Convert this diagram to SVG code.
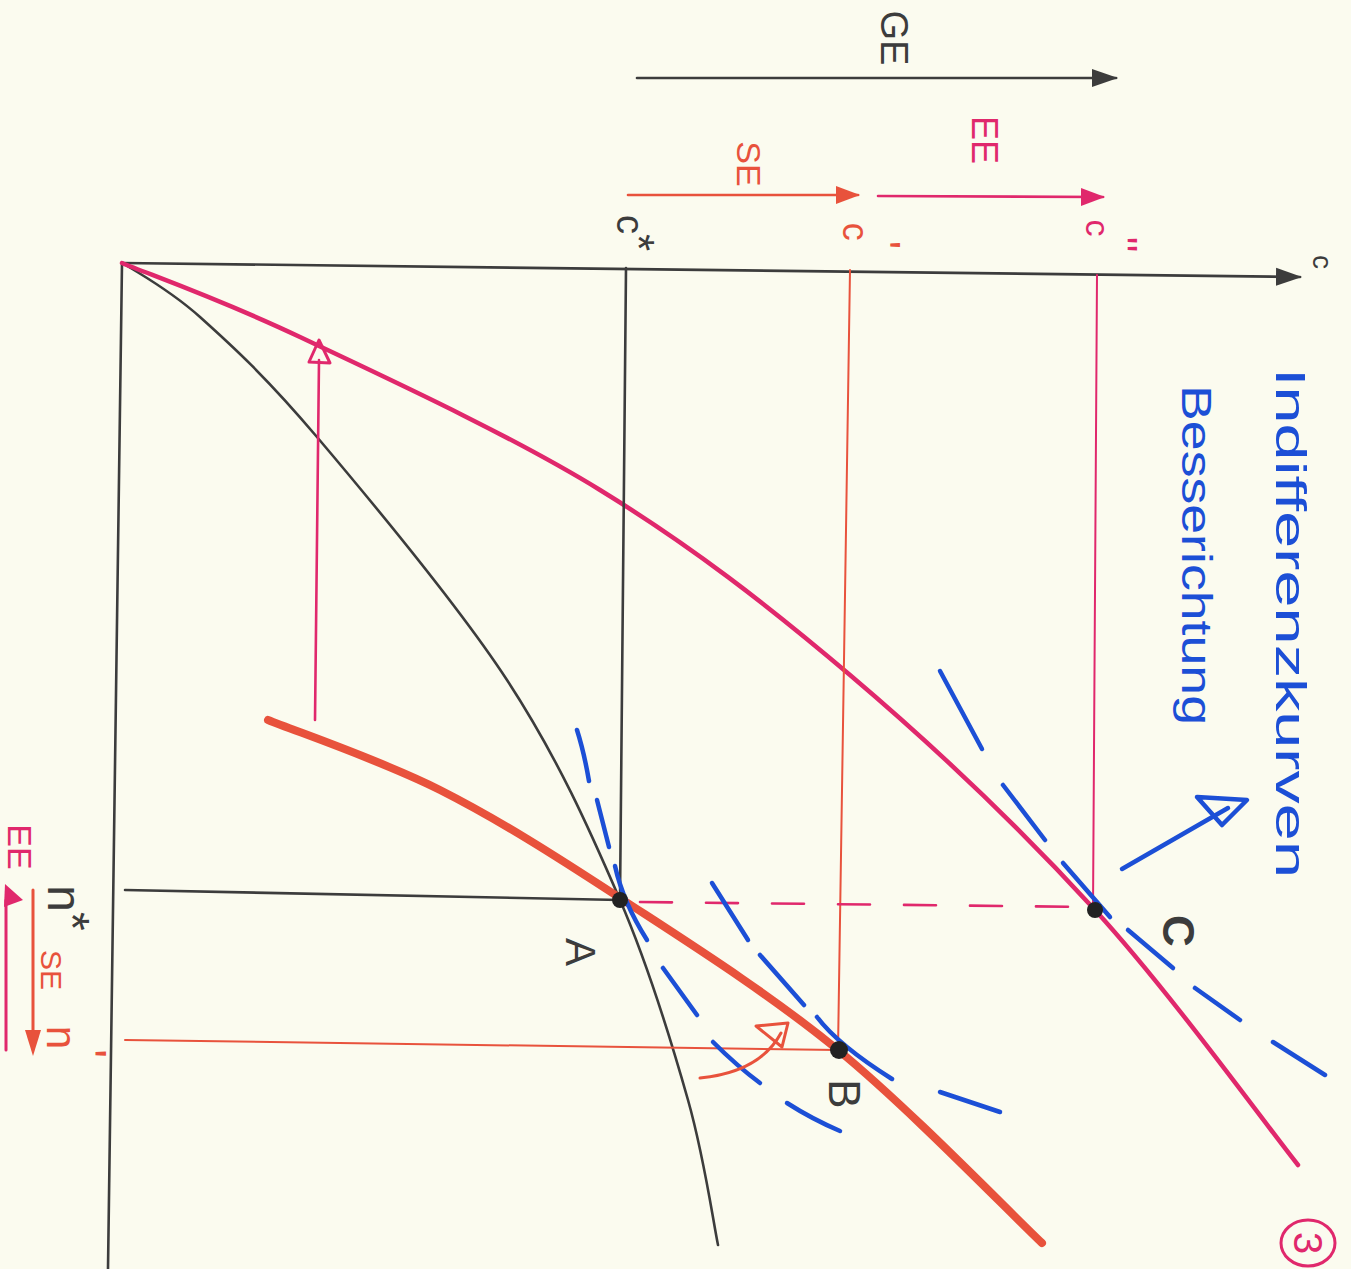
<svg xmlns="http://www.w3.org/2000/svg" width="1351" height="1269" viewBox="0 0 1351 1269">
<style>
  .ink{fill:none;stroke-linecap:round;stroke-linejoin:round}
  .blk{stroke:#3c3c3c;stroke-width:2.6}
  .pink{stroke:#e0286c}
  .red{stroke:#e8523c}
  .blue{stroke:#1c4fd6;stroke-width:4.5}
  .t{font-family:"Liberation Sans","DejaVu Sans",sans-serif}
  .tb{fill:#3c3c3c}
  .tp{fill:#e0286c}
  .tr{fill:#e8523c}
  .tbl{fill:#1c4fd6}
</style>
<defs>
  <marker id="hBlk" viewBox="0 0 26 20" refX="24" refY="10" markerWidth="26" markerHeight="20" markerUnits="userSpaceOnUse" orient="auto"><path d="M0,1 L26,10 L0,19 Z" fill="#3c3c3c"/></marker>
  <marker id="hRed" viewBox="0 0 24 20" refX="22" refY="10" markerWidth="24" markerHeight="20" markerUnits="userSpaceOnUse" orient="auto"><path d="M0,1 L24,10 L0,19 Z" fill="#e8523c"/></marker>
  <marker id="hPink" viewBox="0 0 24 20" refX="22" refY="10" markerWidth="24" markerHeight="20" markerUnits="userSpaceOnUse" orient="auto"><path d="M0,1 L24,10 L0,19 Z" fill="#e0286c"/></marker>
</defs>
<rect width="1351" height="1269" fill="#fbfbef"/>

<g id="axes">
  <path class="ink blk" d="M122,263 L108,1269"/>
  <path class="ink blk" d="M122,263 L1300,277" marker-end="url(#hBlk)"/>
  <text class="t tb" font-size="28" transform="translate(1313,262) rotate(90)" text-anchor="middle">c</text>
</g>

<g id="curves">
  <path id="black-curve" class="ink blk" d="M123,263 C135.8,272 167.7,288 200,317 C232.3,346 265.8,376.5 317,437 C368.2,497.5 456.5,602.8 507,680 C557.5,757.2 589.8,830 620,900 C650.2,970 671.7,1042.5 688,1100 C704.3,1157.5 713,1220.8 718,1245"/>
  <path id="pink-curve" class="ink pink" stroke-width="4.5" d="M122,263 C151.7,275.3 220.3,299.2 300,337 C379.7,374.8 508.3,433.7 600,490 C691.7,546.3 767.5,605 850,675 C932.5,745 1020.3,828.3 1095,910 C1169.7,991.7 1264.2,1122.5 1298,1165"/>
  <path id="red-curve" class="ink red" stroke-width="8" d="M268,720 C296.7,731.7 381.3,760.3 440,790 C498.7,819.7 553.7,854.7 620,898 C686.3,941.3 767.7,992.5 838,1050 C908.3,1107.5 1008,1210.8 1042,1243"/>
</g>

<g id="guides">
  <path class="ink blk" d="M626,268 L620,900"/>
  <path class="ink blk" d="M125,890 L620,900"/>
  <path class="ink red" stroke-width="2" d="M850,270 L838,1050"/>
  <path class="ink red" stroke-width="2" d="M125,1040 L838,1050"/>
  <path class="ink pink" stroke-width="2" d="M1097,275 L1093,910"/>
  <path class="ink pink" stroke-width="2.6" stroke-dasharray="32 34" d="M640,902 L1093,907"/>
</g>

<g id="indifference-curves">
  <path class="ink blue" d="M577,730 Q584,752 589,781"/>
  <path class="ink blue" d="M597,800 L609,847"/>
  <path class="ink blue" d="M615,866 Q623,902 647,940"/>
  <path class="ink blue" d="M663,968 L697,1015"/>
  <path class="ink blue" d="M713,1042 Q737,1066 760,1083"/>
  <path class="ink blue" d="M787,1103 Q812,1119 840,1131"/>

  <path class="ink blue" d="M712,883 L748,940"/>
  <path class="ink blue" d="M760,955 L804,1005"/>
  <path class="ink blue" d="M817,1017 Q838,1045 892,1079"/>
  <path class="ink blue" d="M940,1092 L1000,1112"/>

  <path class="ink blue" d="M940,671 L982,749"/>
  <path class="ink blue" d="M1003,785 L1045,840"/>
  <path class="ink blue" d="M1063,863 L1110,917"/>
  <path class="ink blue" d="M1128,930 L1173,968"/>
  <path class="ink blue" d="M1195,988 L1240,1020"/>
  <path class="ink blue" d="M1273,1042 L1325,1075"/>
</g>

<g id="connectors">
  <path id="ge-arrow" class="ink blk" d="M637,78 L1116,78" marker-end="url(#hBlk)"/>
  <path id="se-arrow" class="ink red" stroke-width="2.6" d="M628,195 L858,195" marker-end="url(#hRed)"/>
  <path id="ee-arrow" class="ink pink" stroke-width="2.6" d="M878,196 L1103,197" marker-end="url(#hPink)"/>
  <path id="shift-arrow" class="ink pink" stroke-width="2.6" d="M315,720 L319,360"/>
  <path class="ink pink" stroke-width="3" d="M319,340 L330,363 L309,362 Z"/>
  <path id="rotate-arrow" class="ink red" stroke-width="3" d="M700,1078 Q760,1072 781,1033"/>
  <path class="ink red" stroke-width="3" d="M788,1023 L756,1026 L782,1047 Z"/>
  <path id="better-arrow" class="ink blue" d="M1122,869 L1228,808"/>
  <path class="ink blue" d="M1247,800 L1197,797 L1222,825 Z"/>
  <path id="ee-left" class="ink pink" stroke-width="3" d="M6,1050 L6,900"/>
  <path d="M5,884 L23,900 L4,907 Z" fill="#e0286c"/>
  <path id="se-left" class="ink red" stroke-width="3" d="M33,890 L33,1035"/>
  <path d="M25,1030 L41,1030 L33,1056 Z" fill="#e8523c"/>
</g>

<g id="label-ge"><text class="t tb" font-size="38" transform="translate(881,38) rotate(90)" text-anchor="middle">GE</text></g>
<g id="label-se-top"><text class="t tr" font-size="34" transform="translate(737,164) rotate(90)" text-anchor="middle">SE</text></g>
<g id="label-ee-top"><text class="t tp" font-size="36" transform="translate(972,140) rotate(90)" text-anchor="middle">EE</text></g>
<g id="label-cstar"><text class="t tb" font-size="38" transform="translate(617,233) rotate(90)" text-anchor="middle">c<tspan font-size="44" dy="-6">*</tspan></text></g>
<g id="label-c1"><text class="t tr" font-size="36" transform="translate(843,236) rotate(90)" text-anchor="middle">c<tspan font-size="44" dy="-26">'</tspan></text></g>
<g id="label-c2"><text class="t tp" font-size="34" transform="translate(1086,236) rotate(90)" text-anchor="middle">c<tspan font-size="42" dy="-22">''</tspan></text></g>

<g id="node-A">
  <circle cx="620" cy="900" r="8" fill="#222"/>
  <text class="t tb" font-size="42" transform="translate(566,952) rotate(90)" text-anchor="middle">A</text>
</g>
<g id="node-B">
  <circle cx="839" cy="1050" r="9" fill="#222"/>
  <text class="t tb" font-size="44" transform="translate(829,1094) rotate(90)" text-anchor="middle">B</text>
</g>
<g id="node-C">
  <circle cx="1095" cy="910" r="8" fill="#222"/>
  <text class="t tb" font-size="44" font-weight="bold" transform="translate(1163,931) rotate(90)" text-anchor="middle">C</text>
</g>

<g id="label-indiff"><text class="t tbl" font-size="42" transform="translate(1276,368) rotate(90)" textLength="510" lengthAdjust="spacingAndGlyphs">Indifferenzkurven</text></g>
<g id="label-besser"><text class="t tbl" font-size="42" transform="translate(1182,385) rotate(90)" textLength="340" lengthAdjust="spacingAndGlyphs">Besserichtung</text></g>

<g id="label-left-ee"><text class="t tp" font-size="34" transform="translate(8,847) rotate(90)" text-anchor="middle">EE</text></g>
<g id="label-nstar"><text class="t tb" font-size="48" transform="translate(48,908) rotate(90)" text-anchor="middle">n<tspan dy="-8">*</tspan></text></g>
<g id="label-left-se"><text class="t tr" font-size="30" transform="translate(41,970) rotate(90)" text-anchor="middle">SE</text></g>
<g id="label-n1"><text class="t tr" font-size="42" transform="translate(47,1042) rotate(90)" text-anchor="middle">n<tspan font-size="48" dy="-26">'</tspan></text></g>

<g id="page-number">
  <ellipse cx="1308" cy="1243" rx="27" ry="23" fill="none" stroke="#e0286c" stroke-width="3"/>
  <text class="t tp" font-size="40" transform="translate(1294,1243) rotate(90)" text-anchor="middle">3</text>
</g>
</svg>
